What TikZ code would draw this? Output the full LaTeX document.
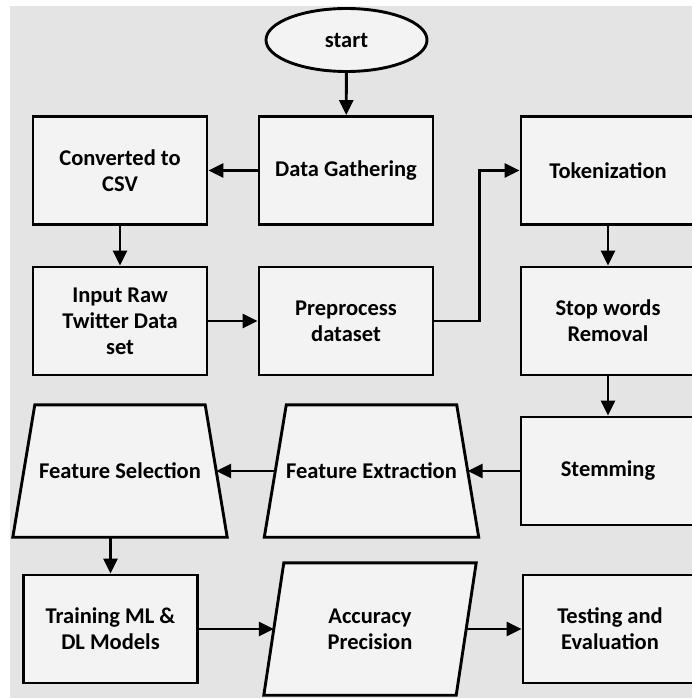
\documentclass[tikz,border=0pt]{standalone}
\usepackage{fontspec}
\setmainfont{Carlito}
\usetikzlibrary{arrows.meta,shapes.geometric,backgrounds}
\definecolor{canvas}{HTML}{E4E4E4}
\definecolor{boxfill}{HTML}{F3F3F3}
\begin{document}
\begin{tikzpicture}[x=1pt,y=-1pt,
  every node/.style={font=\bfseries\fontsize{22.5}{26}\selectfont, align=center, text=black},
  shapebase/.style={draw=black, line width=2.9pt, fill=boxfill, inner sep=0pt},
  stepbox/.style={shapebase, rectangle, minimum width=174pt, minimum height=108pt},
  startoval/.style={shapebase, ellipse, minimum width=161pt, minimum height=63pt},
  % text holder for the slanted shapes: as wide as the shape at half height
  slantbox/.style={rectangle, inner sep=0pt, minimum width=192pt, minimum height=132pt},
  flow/.style={line width=2.9pt, -{Triangle[length=15pt,width=14pt]}},
]
% page
\useasboundingbox (0,0) rectangle (692,698);

% process steps
\node[startoval] (start) at (346.5,40) {start};
\node[stepbox] (gather) at (346,170.5) {Data Gathering};
\node[stepbox] (csv) at (120,170.5) {Converted to\\CSV};
\node[stepbox] (token) at (608,170.5) {Tokenization};
\node[stepbox] (raw) at (120,321) {Input Raw\\Twitter Data\\set};
\node[stepbox] (prep) at (346,321) {Preprocess\\dataset};
\node[stepbox] (stop) at (608,321) {Stop words\\Removal};
\node[stepbox] (stem) at (608,471) {Stemming};
\node[slantbox] (extract) at (371.5,471) {Feature Extraction};
\node[slantbox] (select) at (120,471) {Feature Selection};
\node[stepbox] (train) at (110.5,629) {Training ML \&\\DL Models};
\node[slantbox] (acc) at (370,629) {Accuracy\\Precision};
\node[stepbox] (test) at (610,629) {Testing and\\Evaluation};

% grey canvas and the trapezoid / parallelogram outlines behind their text
\begin{scope}[on background layer]
  \fill[white] (0,0) rectangle (692,698);
  \fill[canvas] (10,6) rectangle (692,698);
  \foreach \n in {extract,select}
    \draw[shapebase, line join=miter]
      ([xshift=11pt]\n.north west) -- ([xshift=-11pt]\n.north east)
      -- ([xshift=11pt]\n.south east) -- ([xshift=-11pt]\n.south west) -- cycle;
  \draw[shapebase, line join=miter]
    ([xshift=10pt]acc.north west) -- ([xshift=10pt]acc.north east)
    -- ([xshift=-10pt]acc.south east) -- ([xshift=-10pt]acc.south west) -- cycle;
\end{scope}

% connectors
\draw[flow] (start) -- (gather);
\draw[flow] (gather) -- (csv);
\draw[flow] (csv) -- (raw);
\draw[flow] (raw) -- (prep);
\draw[flow] (prep.east) -- ++(45,0) |- (token.west);
\draw[flow] (token) -- (stop);
\draw[flow] (stop) -- (stem);
\draw[flow] (stem) -- (extract);
\draw[flow] (extract) -- (select);
\draw[flow] (train.north |- select.south) -- (train.north);
\draw[flow] (train) -- (acc);
\draw[flow] (acc) -- (test);
\end{tikzpicture}
\end{document}
